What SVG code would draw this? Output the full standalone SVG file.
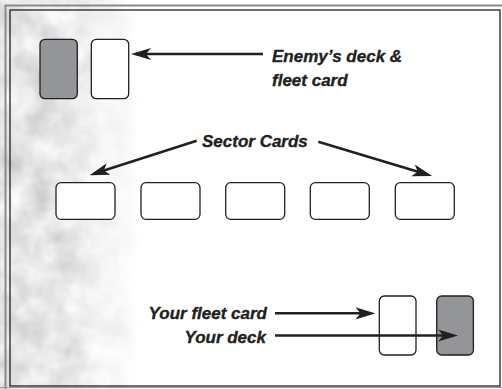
<svg xmlns="http://www.w3.org/2000/svg" width="502" height="389" viewBox="0 0 502 389">
  <style>
    .card { stroke: #231f20; stroke-width: 1.3; }
    .white { fill: #ffffff; }
    .gray { fill: #939598; }
    .conn { stroke: #231f20; stroke-width: 2.5; fill: none; marker-end: url(#arrow); }
    .lbl { font-family: "Liberation Sans", Arial, sans-serif; font-weight: bold; font-style: italic; font-size: 17px; fill: #231f20; stroke: #231f20; stroke-width: 0.35; }
  </style>
  <defs>
    <marker id="arrow" markerUnits="userSpaceOnUse" markerWidth="20" markerHeight="14" viewBox="0 0 18 12" refX="14" refY="6" orient="auto">
      <path d="M0,0.5 L18,6 L0,11.5 L4.5,6 Z" fill="#231f20"/>
    </marker>
    <linearGradient id="fade" gradientUnits="userSpaceOnUse" x1="0" y1="0" x2="140" y2="0">
      <stop offset="0" stop-color="#fff" stop-opacity="1"/>
      <stop offset="0.45" stop-color="#fff" stop-opacity="0.9"/>
      <stop offset="0.8" stop-color="#fff" stop-opacity="0.35"/>
      <stop offset="1" stop-color="#fff" stop-opacity="0"/>
    </linearGradient>
    <filter id="marble" x="0" y="0" width="1" height="1" filterUnits="objectBoundingBox">
      <feTurbulence type="fractalNoise" baseFrequency="0.035" numOctaves="3" seed="7" result="n"/>
      <feColorMatrix in="n" type="matrix" values="0.45 0.45 0 0 0.33  0.45 0.45 0 0 0.33  0.45 0.45 0 0 0.33  0 0 0 0 1" result="g"/>
      <feComposite in="g" in2="SourceGraphic" operator="in"/>
    </filter>
  </defs>

  <rect x="0" y="0" width="502" height="389" fill="#ffffff"/>
  <rect x="0" y="0" width="145" height="389" fill="url(#fade)" filter="url(#marble)"/>

  <!-- frame -->
  <g id="frame" fill="none">
    <path d="M5.5,389 L5.5,5.5 L502,5.5" stroke="#8a8a8a" stroke-width="2"/>
    <rect x="10" y="10" width="490" height="376" stroke="#231f20" stroke-width="1.3"/>
    <path d="M0,387.5 L502,387.5" stroke="#9a9a9a" stroke-width="1"/>
  </g>

  <g id="enemy-deck"><rect class="card gray" x="40" y="39.3" width="37.3" height="59.4" rx="5"/></g>
  <g id="enemy-fleet"><rect class="card white" x="91.3" y="39.3" width="37.4" height="59.4" rx="5"/></g>

  <g id="sector-1"><rect class="card white" x="56" y="182.7" width="59" height="36.6" rx="5"/></g>
  <g id="sector-2"><rect class="card white" x="141" y="182.7" width="59" height="36.6" rx="5"/></g>
  <g id="sector-3"><rect class="card white" x="225.7" y="182.7" width="59" height="36.6" rx="5"/></g>
  <g id="sector-4"><rect class="card white" x="310.3" y="182.7" width="59" height="36.6" rx="5"/></g>
  <g id="sector-5"><rect class="card white" x="395.3" y="182.7" width="59" height="36.6" rx="5"/></g>

  <g id="your-fleet"><rect class="card white" x="379.3" y="296" width="36.7" height="59" rx="5"/></g>
  <g id="your-deck"><rect class="card gray" x="436.7" y="296" width="36.7" height="59" rx="5"/></g>

  <g id="labels">
    <text class="lbl" x="272" y="62">Enemy’s deck &amp;</text>
    <text class="lbl" x="272" y="86">fleet card</text>
    <text class="lbl" x="202" y="147">Sector Cards</text>
    <text class="lbl" x="267" y="319" text-anchor="end">Your fleet card</text>
    <text class="lbl" x="266" y="343" text-anchor="end">Your deck</text>
  </g>

  <g id="connectors">
    <line class="conn" x1="263" y1="54" x2="135.5" y2="54"/>
    <line class="conn" x1="196.7" y1="140.7" x2="93.8" y2="173.8"/>
    <line class="conn" x1="318.3" y1="141.7" x2="427.9" y2="174.8"/>
    <line class="conn" x1="275" y1="313.3" x2="371" y2="313.3"/>
    <line class="conn" x1="275" y1="335.5" x2="453.7" y2="335.5"/>
  </g>
</svg>
